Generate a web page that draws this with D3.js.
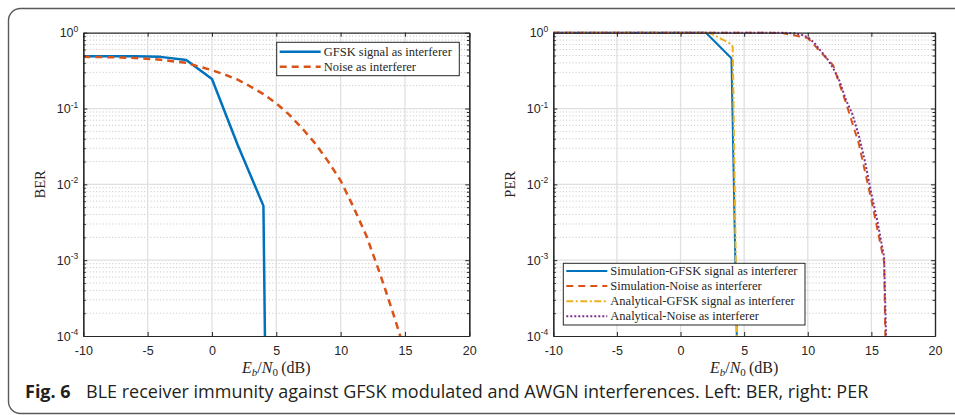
<!DOCTYPE html>
<html>
<head>
<meta charset="utf-8">
<script src="https://cdn.jsdelivr.net/npm/d3@7"></script>
<style>
  body { margin: 0; background: #fff; }
  svg { display: block; }
</style>
</head>
<body>
<div id="chart"></div>
<script>
'use strict'

// ---- data ----
const xTicks = [-10, -5, 0, 5, 10, 15, 20]
const yDecades = [1, 1e-1, 1e-2, 1e-3, 1e-4]
const yDecadeExp = ['0', '-1', '-2', '-3', '-4']

// left panel: BER
const berGfskX = [-10, -8, -6, -4, -2, 0, 2, 4, 4.25]
const berGfskY = [0.49, 0.49, 0.488, 0.48, 0.437, 0.245, 0.033, 0.0052, 1e-6]
const berNoiseX = [-10, -8, -6, -4, -2, 0, 1, 2, 3, 4, 5, 6, 7, 8, 9, 10, 11, 12, 13, 14, 15]
const berNoiseY = [0.48, 0.475, 0.465, 0.44, 0.40, 0.32, 0.28, 0.24, 0.195, 0.155, 0.117, 0.083, 0.055, 0.035, 0.0204, 0.0112, 0.0050, 0.0021, 0.00071, 0.00022, 0.000063]

// right panel: PER
const perSimGfskX = [-10, -8, -6, -4, -2, 0, 2, 4, 4.65]
const perSimGfskY = [1, 1, 1, 1, 1, 1, 1, 0.46, 1e-6]
const perSimNoiseX = [-10, -8, -6, -4, -2, 0, 2, 4, 6, 8, 9, 10, 11, 12, 13, 14, 15, 16, 16.3]
const perSimNoiseY = [1, 1, 1, 1, 1, 1, 1, 1, 1, 0.99, 0.92, 0.85, 0.56, 0.37, 0.119, 0.035, 0.0062, 0.00095, 1e-6]
const perAnaGfskX = [-10, -5, 0, 2, 2.25, 3.9, 4.1, 4.6]
const perAnaGfskY = [1, 1, 1, 1, 1, 0.72, 0.65, 1e-6]
const perAnaNoiseX = [-10, -5, 0, 5, 8, 9, 9.5, 10, 10.5, 11, 11.5, 12, 12.5, 13, 13.5, 14, 14.5, 15, 15.5, 16, 16.15, 16.3]
const perAnaNoiseY = [1, 1, 1, 1, 1, 0.98, 0.94, 0.87, 0.74, 0.58, 0.46, 0.34, 0.23, 0.13, 0.085, 0.045, 0.02, 0.0075, 0.0031, 0.0011, 1e-4, 1e-6]

const W = 955, H = 415
const svg = d3.select('#chart').append('svg')
  .attr('width', W).attr('height', H)
  .attr('viewBox', `0 0 ${W} ${H}`)

// card outline
svg.append('rect')
  .attr('x', 8.5).attr('y', 8.5)
  .attr('width', 970).attr('height', 405)
  .attr('rx', 12)
  .attr('fill', 'none')
  .attr('stroke', '#5a5a5a')
  .attr('stroke-width', 1.4)

const axisColor = '#262626'
const tickFont = '"Liberation Sans", Arial, sans-serif'
const serif = '"Liberation Serif", "DejaVu Serif", serif'

function panel(id, box, yLabel, series, legend) {
  const x = d3.scaleLinear().domain([-10, 20]).range([box.x0, box.x1])
  const y = d3.scaleLog().domain([1e-4, 1]).range([box.y1, box.y0])
  const g = svg.append('g').attr('class', 'panel-' + id)

  // minor ticks for log axis
  const minors = []
  yDecades.slice(1).forEach(d => { for (let k = 2; k <= 9; k++) minors.push(d * k) })

  // grid
  g.append('g').selectAll('line.minor').data(minors).join('line')
    .attr('x1', box.x0).attr('x2', box.x1)
    .attr('y1', d => y(d)).attr('y2', d => y(d))
    .attr('stroke', '#c4c4c4').attr('stroke-width', 1)
    .attr('stroke-dasharray', '1,2.2')
  g.append('g').selectAll('line.vmajor').data(xTicks.slice(1, -1)).join('line')
    .attr('x1', d => x(d)).attr('x2', d => x(d))
    .attr('y1', box.y0).attr('y2', box.y1)
    .attr('stroke', '#e0e0e0').attr('stroke-width', 1.3)
  g.append('g').selectAll('line.hmajor').data(yDecades.slice(1, -1)).join('line')
    .attr('x1', box.x0).attr('x2', box.x1)
    .attr('y1', d => y(d)).attr('y2', d => y(d))
    .attr('stroke', '#e0e0e0').attr('stroke-width', 1.3)

  // lines
  const clipId = 'clip-' + id
  svg.append('clipPath').attr('id', clipId).append('rect')
    .attr('x', box.x0).attr('y', box.y0 - 2)
    .attr('width', box.x1 - box.x0).attr('height', box.y1 - box.y0 + 2)
  const line = d3.line().x(d => x(d[0])).y(d => y(d[1]))
  const lg = g.append('g').attr('clip-path', `url(#${clipId})`)
  series.forEach(s => {
    lg.append('path')
      .datum(d3.zip(s.x, s.y))
      .attr('d', line)
      .attr('fill', 'none')
      .attr('stroke', s.color)
      .attr('stroke-width', s.width)
      .attr('stroke-dasharray', s.dash || null)
      .attr('stroke-linejoin', 'round')
  })

  // axes
  const style = sel => {
    sel.select('.domain').attr('stroke', axisColor).attr('stroke-width', 1.2)
    sel.selectAll('.tick line').attr('stroke', axisColor).attr('stroke-width', 1)
    sel.selectAll('text').attr('fill', axisColor).attr('font-family', tickFont).attr('font-size', 12.5)
  }
  g.append('g').attr('transform', `translate(0,${box.y1})`)
    .call(d3.axisBottom(x).tickValues(xTicks).tickSizeInner(-4).tickSizeOuter(0).tickPadding(10).tickFormat(d => String(d)))
    .call(style)
  g.append('g').attr('transform', `translate(0,${box.y0})`)
    .call(d3.axisTop(x).tickValues(xTicks).tickSizeInner(-4).tickSizeOuter(0).tickFormat(''))
    .call(style)
  const yl = g.append('g').attr('transform', `translate(${box.x0},0)`)
    .call(d3.axisLeft(y).tickValues(yDecades).tickSizeInner(-4).tickSizeOuter(0).tickPadding(5).tickFormat(''))
    .call(style)
  yl.selectAll('.tick text').each(function (d, i) {
    const t = d3.select(this)
    t.append('tspan').text('10')
    t.append('tspan').attr('dy', -5.5).attr('font-size', 8.5).text(yDecadeExp[i])
  })
  g.append('g').attr('transform', `translate(${box.x0},0)`)
    .call(d3.axisLeft(y).tickValues(minors).tickSizeInner(-2.5).tickSizeOuter(0).tickFormat(''))
    .call(style)
  g.append('g').attr('transform', `translate(${box.x1},0)`)
    .call(d3.axisRight(y).tickValues(yDecades).tickSizeInner(-4).tickSizeOuter(0).tickFormat(''))
    .call(style)
  g.append('g').attr('transform', `translate(${box.x1},0)`)
    .call(d3.axisRight(y).tickValues(minors).tickSizeInner(-2.5).tickSizeOuter(0).tickFormat(''))
    .call(style)

  // axis labels
  const xl = g.append('text')
    .attr('x', (box.x0 + box.x1) / 2).attr('y', 373)
    .attr('text-anchor', 'middle')
    .attr('font-family', serif).attr('font-size', 16).attr('fill', axisColor)
  xl.append('tspan').attr('font-style', 'italic').text('E')
  xl.append('tspan').attr('font-style', 'italic').attr('font-size', 11).attr('dy', 3).text('b')
  xl.append('tspan').attr('dy', -3).text('/')
  xl.append('tspan').attr('font-style', 'italic').text('N')
  xl.append('tspan').attr('font-size', 11).attr('dy', 3).text('0')
  xl.append('tspan').attr('dy', -3).text('\u2009(dB)')

  g.append('text')
    .attr('transform', `translate(${box.x0 - 38},${(box.y0 + box.y1) / 2}) rotate(-90)`)
    .attr('text-anchor', 'middle')
    .attr('font-family', serif).attr('font-size', 14.5).attr('fill', axisColor)
    .text(yLabel)

  // legend
  const leg = g.append('g').attr('transform', `translate(${legend.x},${legend.y})`)
  leg.append('rect')
    .attr('width', legend.w).attr('height', legend.h)
    .attr('fill', '#fff').attr('stroke', axisColor).attr('stroke-width', 1)
  series.forEach((s, i) => {
    const cy = legend.pad + i * legend.row
    leg.append('line')
      .attr('x1', 3).attr('x2', 44).attr('y1', cy).attr('y2', cy)
      .attr('stroke', s.color).attr('stroke-width', s.width)
      .attr('stroke-dasharray', s.dash || null)
    leg.append('text')
      .attr('x', 47).attr('y', cy + 4.2)
      .attr('font-family', serif).attr('font-size', 12.5).attr('fill', axisColor)
      .text(s.name)
  })
}

panel('ber', { x0: 83.3, x1: 469.3, y0: 32.7, y1: 336 }, 'BER', [
  { name: 'GFSK signal as interferer', x: berGfskX, y: berGfskY, color: '#0072BD', width: 2.5 },
  { name: 'Noise as interferer', x: berNoiseX, y: berNoiseY, color: '#D95319', width: 2.5, dash: '7,5' }
], { x: 276.7, y: 42.3, w: 182.6, h: 33.4, pad: 9.4, row: 15 })

panel('per', { x0: 553.3, x1: 935, y0: 32.7, y1: 336 }, 'PER', [
  { name: 'Simulation-GFSK signal as interferer', x: perSimGfskX, y: perSimGfskY, color: '#0072BD', width: 2 },
  { name: 'Simulation-Noise as interferer', x: perSimNoiseX, y: perSimNoiseY, color: '#D95319', width: 2, dash: '7,5' },
  { name: 'Analytical-GFSK signal as interferer', x: perAnaGfskX, y: perAnaGfskY, color: '#EDB120', width: 2, dash: '7,2.5,2,2.5' },
  { name: 'Analytical-Noise as interferer', x: perAnaNoiseX, y: perAnaNoiseY, color: '#7E2F8E', width: 2, dash: '2,2' }
], { x: 563.3, y: 263.3, w: 241.7, h: 61.7, pad: 7.7, row: 15.1 })

// caption
const cap = svg.append('text')
  .attr('y', 398)
  .attr('font-family', '"Open Sans", "Noto Sans", sans-serif')
  .attr('font-size', 18).attr('fill', '#231f20')
cap.append('tspan').attr('x', 25).attr('font-weight', 'bold').text('Fig. 6')
cap.append('tspan').attr('x', 86)
  .text('BLE receiver immunity against GFSK modulated and AWGN interferences. Left: BER, right: PER')
</script>
</body>
</html>
